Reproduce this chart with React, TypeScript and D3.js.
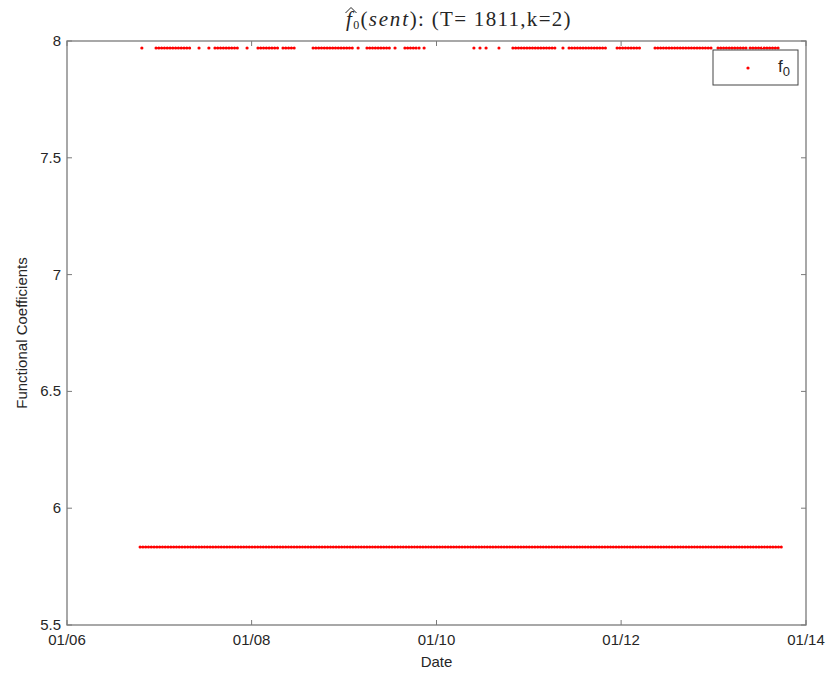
import React from "react";
import * as d3 from "d3";

// Data: periods (start, end) during which the estimated coefficient sits at each level
const levelHigh = 7.97;
const levelLow = 5.834;

const highStarts = [
  "2006-10-24", "2006-12-19", "2007-06-07", "2007-07-16", "2007-08-09", "2007-12-14",
  "2008-01-26", "2008-05-04", "2008-08-31", "2009-02-25", "2009-04-01", "2009-07-21",
  "2009-08-29", "2009-10-24", "2009-11-13", "2010-05-29", "2010-06-22", "2010-07-16",
  "2010-09-05", "2010-10-30", "2011-05-16", "2011-06-09", "2011-12-16", "2012-05-14",
  "2013-01-18", "2013-05-25",
];
const highEnds = [
  "2006-10-24", "2007-05-10", "2007-06-07", "2007-07-16", "2007-11-12", "2007-12-14",
  "2008-04-14", "2008-06-28", "2009-02-13", "2009-02-25", "2009-07-09", "2009-07-21",
  "2009-10-16", "2009-10-24", "2009-11-13", "2010-05-29", "2010-06-22", "2010-07-16",
  "2010-09-14", "2011-04-15", "2011-05-16", "2011-11-06", "2012-03-16", "2012-12-29",
  "2013-05-13", "2013-09-19",
];
const lowStarts = ["2006-10-17"];
const lowEnds = ["2013-10-01"];

const xTickLabels = ["01/06", "01/08", "01/10", "01/12", "01/14"];
const xTickDates = ["2006-01-01", "2008-01-01", "2010-01-01", "2012-01-01", "2014-01-01"];
const yTicks = [5.5, 6, 6.5, 7, 7.5, 8];

const W = 832, H = 676;
const M = { left: 67, right: 806, top: 41, bottom: 625 };

export default function App() {
  const parse = d3.utcParse("%Y-%m-%d");
  const x = d3.scaleUtc()
    .domain([parse("2006-01-01")!, parse("2014-01-01")!])
    .range([M.left, M.right]);
  const y = d3.scaleLinear().domain([5.5, 8]).range([M.bottom, M.top]);

  const segs: { s: Date; e: Date; v: number }[] = [];
  highStarts.forEach((s, i) => segs.push({ s: parse(s)!, e: parse(highEnds[i])!, v: levelHigh }));
  lowStarts.forEach((s, i) => segs.push({ s: parse(s)!, e: parse(lowEnds[i])!, v: levelLow }));

  const axisColor = "#7a7a7a";
  const textColor = "#262626";
  const red = "#ff0000";
  const tick = 5;
  const fs = 15;

  return (
    <svg width={W} height={H} style={{ display: "block", position: "absolute", left: 0, top: 0 }}
      fontFamily="'Liberation Sans', Arial, sans-serif">
      <rect x={0} y={0} width={W} height={H} fill="#fff" />
      {/* frame */}
      <rect x={M.left} y={M.top} width={M.right - M.left} height={M.bottom - M.top}
        fill="none" stroke={axisColor} strokeWidth={1.3} />
      {/* x ticks */}
      {xTickDates.map((d, i) => {
        const xx = x(parse(d)!);
        return (
          <g key={d}>
            <line x1={xx} x2={xx} y1={M.bottom} y2={M.bottom - tick} stroke={axisColor} />
            <line x1={xx} x2={xx} y1={M.top} y2={M.top + tick} stroke={axisColor} />
            <text x={xx} y={M.bottom + 20} textAnchor="middle" fontSize={fs} fill={textColor}>
              {xTickLabels[i]}
            </text>
          </g>
        );
      })}
      {/* y ticks */}
      {yTicks.map((v) => {
        const yy = y(v);
        return (
          <g key={v}>
            <line x1={M.left} x2={M.left + tick} y1={yy} y2={yy} stroke={axisColor} />
            <line x1={M.right} x2={M.right - tick} y1={yy} y2={yy} stroke={axisColor} />
            <text x={M.left - 6} y={yy + 5} textAnchor="end" fontSize={fs} fill={textColor}>
              {String(v)}
            </text>
          </g>
        );
      })}
      {/* data */}
      {segs.map((sg, i) => {
        const x1 = x(sg.s), x2 = x(sg.e), yy = y(sg.v);
        if (Math.abs(x2 - x1) < 0.5) {
          return <circle key={i} cx={x1} cy={yy} r={1.6} fill={red} />;
        }
        return (
          <line key={i} x1={x1} x2={x2} y1={yy} y2={yy} stroke={red} strokeWidth={3.1}
            strokeLinecap="round" strokeDasharray="0 2.8" />
        );
      })}
      {/* legend */}
      <rect x={713} y={50} width={85} height={35} fill="#fff" stroke="#444" strokeWidth={1} />
      <circle cx={748} cy={68} r={1.6} fill={red} />
      <text x={778} y={72} fontSize={17} fill={textColor}>
        f<tspan dy={4} fontSize={13}>0</tspan>
      </text>
      {/* axis labels */}
      <text x={(M.left + M.right) / 2} y={667} textAnchor="middle" fontSize={fs} fill={textColor}>Date</text>
      <text transform={`translate(27,${(M.top + M.bottom) / 2}) rotate(-90)`} textAnchor="middle"
        fontSize={fs} fill={textColor}>Functional Coefficients</text>
      {/* title */}
      <g fontFamily="'Liberation Serif', 'DejaVu Serif', serif" fill={textColor}>
        <path d="M345.5,13 L351,7.5 L356.5,13" fill="none" stroke={textColor} strokeWidth={1} />
        <text x={346} y={26} fontSize={21} letterSpacing={1.3}>
          <tspan fontStyle="italic">f</tspan>
          <tspan dy={3} fontSize={12}>0</tspan>
          <tspan dy={-3}>(</tspan>
          <tspan fontStyle="italic" letterSpacing={1.8}>sent</tspan>
          <tspan>): (T= 1811,k=2)</tspan>
        </text>
      </g>
    </svg>
  );
}
